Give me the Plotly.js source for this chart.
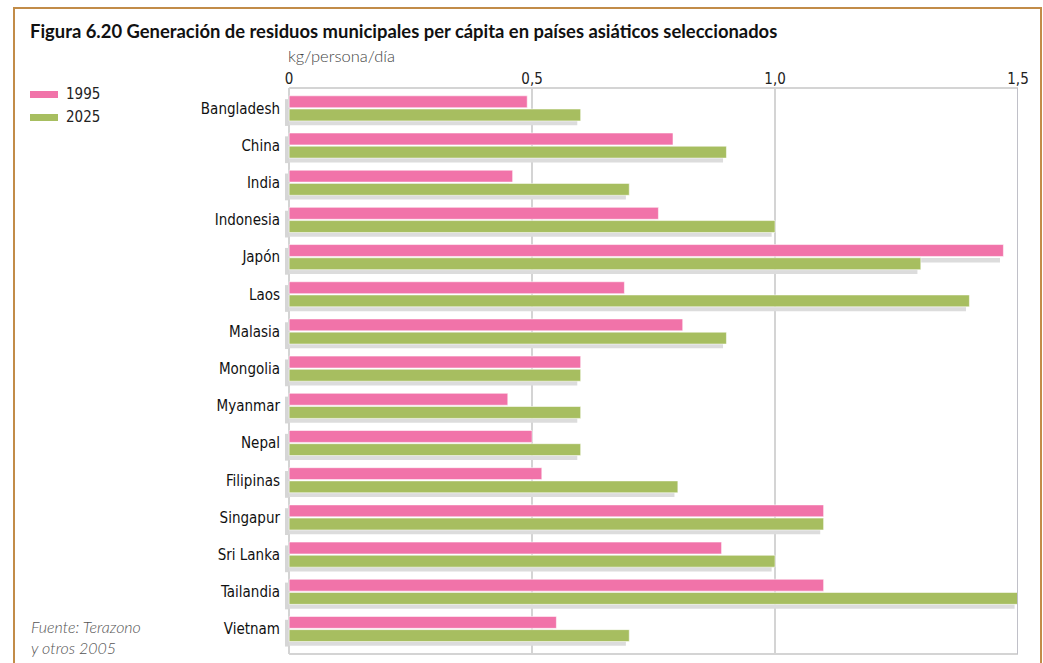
<!DOCTYPE html>
<html><head><meta charset="utf-8">
<script src="https://cdn.plot.ly/plotly-3.0.1.min.js"></script>
<style>html,body{margin:0;padding:0;background:#fff}#chart{width:1043px;height:663px}</style>
</head><body><div id="chart"></div>
<script>
const countries = ["Bangladesh","China","India","Indonesia","Japón","Laos","Malasia","Mongolia","Myanmar","Nepal","Filipinas","Singapur","Sri Lanka","Tailandia","Vietnam"];
const v1995 = [0.49,0.79,0.46,0.76,1.47,0.69,0.81,0.60,0.45,0.50,0.52,1.10,0.89,1.10,0.55];
const v2025 = [0.60,0.90,0.70,1.00,1.30,1.40,0.90,0.60,0.60,0.60,0.80,1.10,1.00,1.50,0.70];
const seriesNames = ["1995","2025"];
const tickVals = [0,0.5,1.0,1.5];
const tickText = ["0","0,5","1,0","1,5"];

const PINK = "#F173A9", GREEN = "#A7BE60", SHADOW = "#DCDCDC";
const W = 1043, H = 663, L = 285, R = 1018, T = 88, B = 654;
const X0 = -0.0085;
const px = (p) => (p - L) / (R - L);
const py = (p) => (B - p) / (B - T);
const shadowShift = 0.007;
const labelFont = "Liberation Sans Narrow, DejaVu Sans Condensed, Arial Narrow, sans-serif";

const common = {type:"bar", orientation:"h", y:countries, hoverinfo:"skip", showlegend:false};
const traces = [
  Object.assign({}, common, {x:countries.map(()=>-X0), base:X0, offset:-0.25, width:0.72, marker:{color:"#D6D6D6"}}),
  Object.assign({}, common, {x:v1995.map(v=>v-shadowShift), offset:0.02, width:0.12, marker:{color:SHADOW}}),
  Object.assign({}, common, {x:v2025.map(v=>v-shadowShift), offset:0.33, width:0.12, marker:{color:SHADOW}}),
  Object.assign({}, common, {name:seriesNames[0], x:v1995, offset:-0.34, width:0.32, marker:{color:PINK, line:{color:"rgba(255,255,255,0.55)", width:1}}}),
  Object.assign({}, common, {name:seriesNames[1], x:v2025, offset:0.015, width:0.32, marker:{color:GREEN, line:{color:"rgba(255,255,255,0.55)", width:1}}})
];

const shapes = [
  {type:"rect", xref:"paper", yref:"paper", x0:px(14), x1:px(1041), y0:py(672), y1:py(8), line:{color:"#C28C48", width:2}, fillcolor:"rgba(0,0,0,0)", layer:"below"},
  {type:"line", xref:"x", yref:"paper", x0:0, x1:1.5, y0:1, y1:1, line:{color:"#D4D4D4", width:2}},
  {type:"line", xref:"x", yref:"paper", x0:0, x1:1.5, y0:0, y1:0, line:{color:"#D4D4D4", width:2}},
  {type:"line", xref:"x", yref:"paper", x0:1.5, x1:1.5, y0:0, y1:1, line:{color:"#C0C0C8", width:2}},
  {type:"rect", xref:"paper", yref:"paper", x0:px(30), x1:px(58), y0:py(98), y1:py(91), fillcolor:PINK, line:{width:0}},
  {type:"rect", xref:"paper", yref:"paper", x0:px(30), x1:px(58), y0:py(121), y1:py(114), fillcolor:GREEN, line:{width:0}}
];

const annotations = [
  {xref:"paper", yref:"paper", x:px(286), y:py(56), xanchor:"left", yanchor:"middle", showarrow:false, text:"kg/persona/día", font:{family:"Lato, sans-serif", size:16.5, color:"#444", weight:300}},
  {xref:"paper", yref:"paper", x:px(64), y:py(94), xanchor:"left", yanchor:"middle", showarrow:false, text:seriesNames[0], font:{family:labelFont, size:15, color:"#222"}},
  {xref:"paper", yref:"paper", x:px(64), y:py(117), xanchor:"left", yanchor:"middle", showarrow:false, text:seriesNames[1], font:{family:labelFont, size:15, color:"#222"}},
  {xref:"paper", yref:"paper", x:px(29), y:py(637), xanchor:"left", yanchor:"middle", align:"left", showarrow:false, text:"<i>Fuente: Terazono<br>y otros 2005</i>", font:{family:"Lato, sans-serif", size:16, color:"#555", weight:300}}
];

const layout = {
  width:W, height:H,
  margin:{l:L, r:W-R, t:T, b:H-B, pad:0},
  paper_bgcolor:"#fff", plot_bgcolor:"#fff",
  barmode:"overlay",
  title:{text:"<b>Figura 6.20 Generación de residuos municipales per cápita en países asiáticos seleccionados</b>", xref:"container", yref:"container", x:30/W, y:1-32/H, xanchor:"left", yanchor:"middle", font:{family:"Lato, sans-serif", size:18.4, color:"#111"}},
  xaxis:{side:"top", range:[X0,1.5], tickvals:tickVals, ticktext:tickText, showgrid:true, gridcolor:"#D4D4D4", gridwidth:2, zeroline:false, showline:false, ticks:"", tickfont:{family:labelFont, size:15, color:"#222"}, fixedrange:true},
  yaxis:{type:"category", range:[14.67,-0.55], showgrid:false, zeroline:false, showline:false, ticks:"", ticklabelstandoff:4, tickfont:{family:labelFont, size:15, color:"#111"}, fixedrange:true},
  shapes:shapes, annotations:annotations,
  showlegend:false, hovermode:false
};
Plotly.newPlot("chart", traces, layout, {displayModeBar:false, staticPlot:true});
</script></body></html>
